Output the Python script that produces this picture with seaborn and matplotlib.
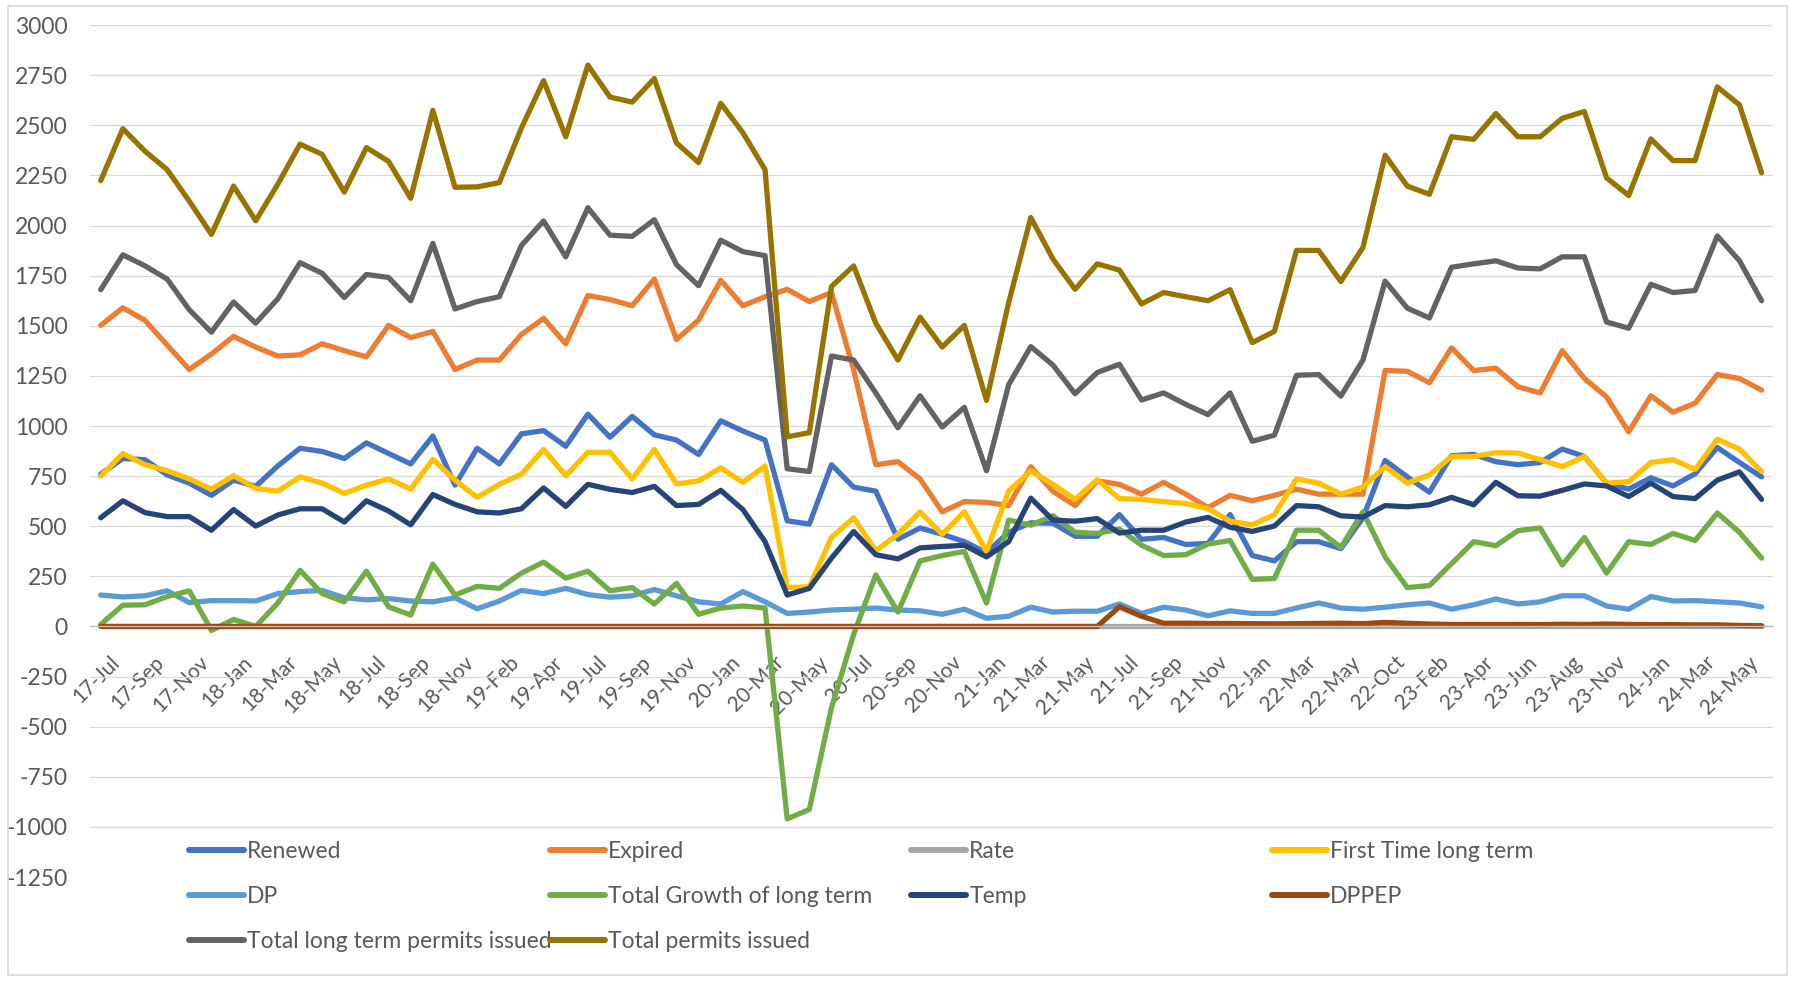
import pandas as pd
import numpy as np
import matplotlib.pyplot as plt
import matplotlib.transforms as mtransforms
import seaborn as sns
from matplotlib.lines import Line2D
from matplotlib.patches import Rectangle

# Data
months = ['17-Jul', '17-Aug', '17-Sep', '17-Oct', '17-Nov', '17-Dec',
          '18-Jan', '18-Feb', '18-Mar', '18-Apr', '18-May', '18-Jun', '18-Jul', '18-Aug',
          '18-Sep', '18-Oct', '18-Nov', '18-Dec',
          '19-Feb', '19-Mar', '19-Apr', '19-May', '19-Jul', '19-Aug', '19-Sep', '19-Oct',
          '19-Nov', '19-Dec',
          '20-Jan', '20-Feb', '20-Mar', '20-Apr', '20-May', '20-Jun', '20-Jul', '20-Aug',
          '20-Sep', '20-Oct', '20-Nov', '20-Dec',
          '21-Jan', '21-Feb', '21-Mar', '21-Apr', '21-May', '21-Jun', '21-Jul', '21-Aug',
          '21-Sep', '21-Oct', '21-Nov', '21-Dec',
          '22-Jan', '22-Feb', '22-Mar', '22-Apr', '22-May', '22-Jun', '22-Oct', '22-Nov',
          '23-Feb', '23-Mar', '23-Apr', '23-May', '23-Jun', '23-Jul', '23-Aug', '23-Sep',
          '23-Nov', '23-Dec',
          '24-Jan', '24-Feb', '24-Mar', '24-Apr', '24-May', '24-Jun']

renewed = [760, 838, 832, 756, 715, 654, 730, 699, 801, 889,
           873, 838, 916, 863, 811, 950, 705, 889, 811, 961,
           977, 899, 1059, 944, 1048, 956, 930, 858, 1026, 975,
           930, 527, 511, 807, 695, 675, 435, 491, 460, 423,
           368, 470, 517, 515, 450, 450, 558, 435, 444, 409,
           414, 558, 354, 327, 423, 423, 388, 542, 828, 746,
           670, 852, 858, 822, 807, 818, 885, 848, 715, 685,
           742, 701, 762, 893, 818, 746]

expired = [1502, 1590, 1527, 1404, 1282, 1359, 1447, 1394, 1349, 1355,
           1410, 1376, 1345, 1502, 1441, 1472, 1282, 1329, 1329, 1457,
           1537, 1410, 1651, 1631, 1600, 1733, 1431, 1529, 1727, 1600,
           1645, 1682, 1621, 1666, 1280, 807, 822, 736, 572, 623,
           619, 603, 797, 674, 603, 726, 709, 660, 719, 660,
           593, 654, 627, 654, 685, 660, 660, 660, 1277, 1273,
           1216, 1390, 1277, 1288, 1196, 1165, 1376, 1237, 1145, 971,
           1151, 1069, 1114, 1257, 1237, 1179]

rate = [1, 1, 1, 1, 1, 1, 1, 1, 1, 1,
        1, 1, 1, 1, 1, 1, 1, 1, 1, 1,
        1, 1, 1, 1, 1, 1, 1, 1, 1, 1,
        1, 1, 1, 1, 1, 1, 1, 1, 1, 1,
        1, 1, 1, 1, 1, 1, 1, 1, 1, 1,
        1, 1, 1, 1, 1, 1, 1, 1, 1, 1,
        1, 1, 1, 1, 1, 1, 1, 1, 1, 1,
        1, 1, 1, 1, 1, 1]

first_time = [750, 863, 807, 777, 736, 685, 752, 689, 675, 746,
              715, 664, 705, 736, 685, 834, 730, 644, 709, 760,
              883, 752, 869, 869, 736, 883, 711, 726, 791, 719,
              801, 194, 198, 444, 542, 378, 460, 572, 460, 572,
              374, 675, 777, 709, 634, 732, 638, 634, 623, 613,
              588, 525, 507, 558, 736, 715, 660, 695, 797, 715,
              756, 848, 848, 867, 865, 832, 797, 848, 715, 722,
              818, 832, 783, 934, 885, 773]

dp = [157, 147, 153, 178, 119, 129, 129, 127, 164, 174,
      180, 143, 133, 139, 127, 123, 143, 88, 127, 180,
      164, 190, 159, 146, 153, 184, 153, 123, 112, 174,
      123, 65, 72, 82, 86, 92, 82, 78, 61, 86,
      41, 51, 96, 72, 76, 76, 112, 65, 96, 82,
      53, 78, 65, 65, 92, 117, 92, 86, 96, 108,
      117, 86, 108, 137, 112, 123, 153, 153, 102, 86,
      149, 127, 129, 123, 117, 98]

growth = [10, 106, 108, 149, 178, -20, 35, 0, 117, 280,
          164, 123, 276, 98, 57, 311, 157, 200, 190, 266,
          321, 241, 276, 178, 194, 112, 215, 61, 92, 102,
          92, -960, -913, -405, -40, 257, 72, 327, 354, 374,
          117, 531, 505, 552, 470, 464, 486, 405, 354, 358,
          411, 429, 235, 239, 480, 480, 394, 572, 347, 194,
          204, 313, 423, 403, 478, 491, 307, 444, 266, 423,
          409, 464, 429, 566, 470, 341]

temp = [542, 627, 568, 548, 548, 480, 583, 501, 556, 587,
        587, 521, 627, 576, 507, 658, 609, 572, 566, 587,
        691, 599, 709, 684, 668, 699, 603, 609, 679, 583,
        423, 157, 190, 341, 474, 358, 337, 392, 399, 405,
        347, 423, 640, 531, 525, 538, 466, 480, 480, 521,
        544, 495, 474, 501, 603, 597, 552, 546, 603, 597,
        607, 644, 607, 719, 652, 650, 679, 711, 701, 648,
        715, 648, 638, 730, 771, 634]

dppep = [0, 0, 0, 0, 0, 0, 0, 0, 0, 0,
         0, 0, 0, 0, 0, 0, 0, 0, 0, 0,
         0, 0, 0, 0, 0, 0, 0, 0, 0, 0,
         0, 0, 0, 0, 0, 0, 0, 0, 0, 0,
         0, 0, 0, 0, 0, 0, 98, 51, 16, 16,
         15, 15, 14, 13, 14, 15, 16, 14, 20, 16,
         12, 10, 10, 9, 10, 9, 11, 10, 12, 10,
         9, 9, 8, 8, 5, 4]

total_long = [1680, 1854, 1799, 1733, 1580, 1468, 1619, 1513, 1635, 1815,
              1762, 1641, 1756, 1741, 1625, 1911, 1584, 1621, 1645, 1901,
              2023, 1844, 2089, 1952, 1946, 2029, 1805, 1700, 1927, 1870,
              1850, 787, 773, 1349, 1329, 1165, 991, 1151, 995, 1093,
              777, 1206, 1396, 1304, 1161, 1267, 1308, 1130, 1165, 1108,
              1057, 1165, 924, 954, 1253, 1257, 1149, 1329, 1723, 1588,
              1539, 1792, 1809, 1824, 1788, 1784, 1844, 1844, 1519, 1488,
              1707, 1666, 1676, 1948, 1825, 1625]

total_permits = [2224, 2483, 2371, 2279, 2122, 1956, 2197, 2024, 2207, 2406,
                 2355, 2167, 2389, 2320, 2136, 2575, 2191, 2193, 2214, 2487,
                 2723, 2443, 2800, 2641, 2616, 2733, 2412, 2314, 2610, 2463,
                 2279, 946, 967, 1696, 1799, 1513, 1329, 1543, 1394, 1502,
                 1128, 1615, 2040, 1833, 1682, 1809, 1778, 1609, 1666, 1645,
                 1625, 1680, 1416, 1472, 1876, 1876, 1721, 1891, 2351, 2197,
                 2156, 2443, 2430, 2559, 2443, 2443, 2535, 2569, 2238, 2150,
                 2432, 2324, 2324, 2692, 2602, 2263]

series_names = ['Renewed', 'Expired', 'Rate', 'First Time long term', 'DP',
                'Total Growth of long term', 'Temp', 'DPPEP',
                'Total long term permits issued', 'Total permits issued']
series_values = [renewed, expired, rate, first_time, dp, growth, temp, dppep,
                 total_long, total_permits]
colors = ['#4472C4', '#ED7D31', '#A5A5A5', '#FFC000', '#5B9BD5',
          '#70AD47', '#264478', '#9E480E', '#636363', '#997300']

# Long-form table
rows = []
for name, vals in zip(series_names, series_values):
    for i, v in enumerate(vals):
        rows.append((i, v, name))
df = pd.DataFrame(rows, columns=['idx', 'value', 'series'])

sns.set_style('white')
plt.rcParams['font.family'] = ['Lato', 'DejaVu Sans']
plt.rcParams['axes.unicode_minus'] = False
text_color = '#595959'
grid_color = '#D9D9D9'
fs = 16.5

fig = plt.figure(figsize=(17.96, 9.81), dpi=100)
ax = fig.add_axes([0.0499, 0.106, 0.9371, 0.8684])

sns.lineplot(data=df, x='idx', y='value', hue='series', hue_order=series_names,
             palette=dict(zip(series_names, colors)), linewidth=3.8,
             legend=False, sort=False, ax=ax,
             solid_joinstyle='round', solid_capstyle='round')

ax.set_xlim(-0.5, len(months) - 0.5)
ax.set_ylim(-1250, 3000)
ax.set_yticks(np.arange(-1250, 3001, 250))
ax.yaxis.grid(True, color=grid_color, linewidth=0.9)
ax.set_axisbelow(True)
ax.set_xlabel('')
ax.set_ylabel('')

for s in ['top', 'right', 'left']:
    ax.spines[s].set_visible(False)
ax.spines['bottom'].set_position(('data', 0))
ax.spines['bottom'].set_color('#BFBFBF')
ax.spines['bottom'].set_linewidth(1.0)

ax.set_xticks(np.arange(0, len(months), 2))
ax.set_xticklabels(months[::2], rotation=45, ha='right', va='top',
                   rotation_mode='anchor', fontsize=15, color=text_color)
ax.set_xticks(np.arange(-0.5, len(months), 1), minor=True)
ax.tick_params(axis='x', which='major', length=0, pad=15)
ax.tick_params(axis='x', which='minor', length=6, color='#BFBFBF', width=1.0,
               direction='out')
ax.tick_params(axis='y', length=0, pad=16, labelsize=fs, labelcolor=text_color)

shift = mtransforms.ScaledTranslation(9 / 100, -5 / 100, fig.dpi_scale_trans)
for lab in ax.get_xticklabels():
    lab.set_transform(lab.get_transform() + shift)

# Legend, four evenly spaced columns as in the original
handles = [Line2D([0], [0], color=c, linewidth=4.3, solid_capstyle='round')
           for c in colors]
col_x = [0.105, 0.306, 0.507, 0.708]
columns = [[0, 4, 8], [1, 5, 9], [2, 6], [3, 7]]
for cx, idxs in zip(col_x, columns):
    leg = fig.legend([handles[i] for i in idxs], [series_names[i] for i in idxs],
                     loc='upper left', bbox_to_anchor=(cx, 0.1425), frameon=False,
                     fontsize=fs, handlelength=2.43, handletextpad=0.13,
                     labelspacing=1.04, borderpad=0, borderaxespad=0)
    for t in leg.get_texts():
        t.set_color(text_color)

# Chart border
fig.patches.append(Rectangle((0.0045, 0.006), 0.9905, 0.988, transform=fig.transFigure,
                             fill=False, edgecolor=grid_color, linewidth=1.2))

fig.savefig('out.png', dpi=100)
